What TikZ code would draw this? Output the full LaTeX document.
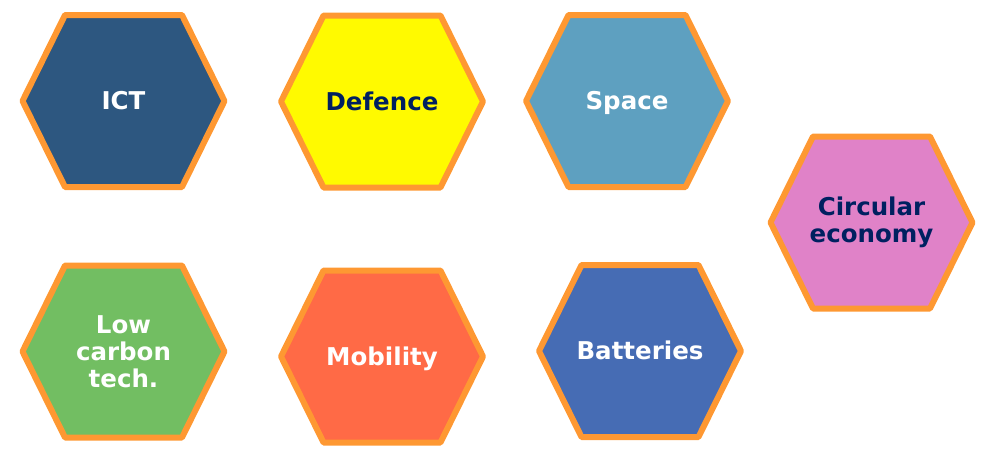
\documentclass[tikz,border=0pt]{standalone}
\usepackage{fontspec}
\setmainfont{DejaVu Sans}
\usetikzlibrary{positioning}
\definecolor{Rim}{RGB}{254,152,50}
\definecolor{Navy}{RGB}{0,32,96}
\definecolor{IctBlue}{RGB}{45,87,128}
\definecolor{DefYellow}{RGB}{255,250,0}
\definecolor{SpaceBlue}{RGB}{94,160,192}
\definecolor{CircPink}{RGB}{224,130,200}
\definecolor{LowGreen}{RGB}{114,190,98}
\definecolor{MobRed}{RGB}{255,106,70}
\definecolor{BatBlue}{RGB}{70,108,180}

\tikzset{
  hexcell/.style={draw=Rim, line width=6pt, line join=round},
  hexlabel/.style={font=\fontsize{24.5}{27}\selectfont\bfseries, align=center, inner sep=0pt},
  onerow/.style={text height=17.8pt, text depth=0pt}
}

% #1 name, #2 centre, #3 fill, #4 label options, #5 text
\newcommand{\hexcellat}[5]{%
  \filldraw[hexcell, fill=#3] (#2) +(-101,0) -- +(-58.5,-86) -- +(58.5,-86)
    -- +(101,0) -- +(58.5,86) -- +(-58.5,86) -- cycle;
  \node[hexlabel, #4] (#1) at (#2) {#5};
}

\begin{document}
\begin{tikzpicture}[x=1pt, y=-1pt]
  \useasboundingbox (0,0) rectangle (987,448);
  % top row
  \hexcellat{ict}{123.5,101}{IctBlue}{onerow, text=white}{ICT}
  \hexcellat{defence}{382,101.5}{DefYellow}{onerow, text=Navy}{Defence}
  \hexcellat{space}{627,101}{SpaceBlue}{onerow, text=white}{Space}
  % right
  \hexcellat{circular}{871.5,222.5}{CircPink}{text=Navy}{Circular\\economy}
  % bottom row
  \hexcellat{lowcarbon}{123.5,351.5}{LowGreen}{text=white}{Low\\carbon\\tech.}
  \hexcellat{mobility}{382,356.5}{MobRed}{onerow, text=white}{Mobility}
  \hexcellat{batteries}{640,351}{BatBlue}{onerow, text=white}{Batteries}
\end{tikzpicture}
\end{document}
